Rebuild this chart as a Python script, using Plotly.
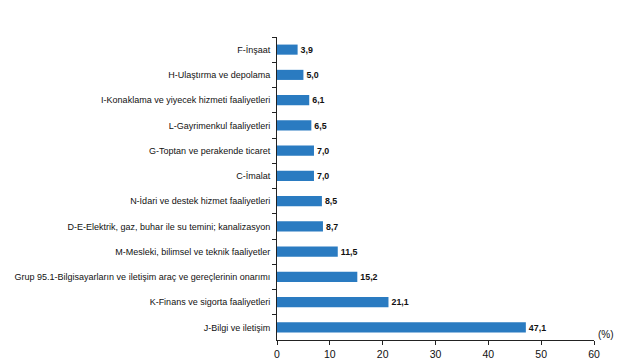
import plotly.graph_objects as go

categories = [
    "F-İnşaat",
    "H-Ulaştırma ve depolama",
    "I-Konaklama ve yiyecek hizmeti faaliyetleri",
    "L-Gayrimenkul faaliyetleri",
    "G-Toptan ve perakende ticaret",
    "C-İmalat",
    "N-İdari ve destek hizmet faaliyetleri",
    "D-E-Elektrik, gaz, buhar ile su temini; kanalizasyon",
    "M-Mesleki, bilimsel ve teknik faaliyetler",
    "Grup 95.1-Bilgisayarların ve iletişim araç ve gereçlerinin onarımı",
    "K-Finans ve sigorta faaliyetleri",
    "J-Bilgi ve iletişim",
]
values = [3.9, 5.0, 6.1, 6.5, 7.0, 7.0, 8.5, 8.7, 11.5, 15.2, 21.1, 47.1]
x_ticks = [0, 10, 20, 30, 40, 50, 60]
labels = [f"{v:.1f}".replace(".", ",") for v in values]

fig = go.Figure(go.Bar(
    x=values, y=categories, orientation="h",
    marker=dict(color="#2a7bc1", line=dict(width=0)),
    width=0.4,
    text=["<b>" + t + "</b>" for t in labels],
    textposition="outside",
    textfont=dict(family="Liberation Sans, Arial", size=10.5, color="#111"),
    cliponaxis=False,
))

# page body has an 8px margin, so the figure is sized to fit the 633x362 window
fig.update_layout(
    width=625, height=354,
    margin=dict(l=269, r=39, t=29, b=22, autoexpand=False),
    paper_bgcolor="white", plot_bgcolor="white",
    showlegend=False,
    font=dict(family="Liberation Sans, Arial", color="#111"),
    xaxis=dict(
        range=[0, 60], tickvals=x_ticks, ticktext=[str(t) for t in x_ticks],
        showgrid=False, zeroline=False, automargin=False,
        showline=True, linecolor="#222", linewidth=1,
        ticks="outside", ticklen=4, tickcolor="#222",
        tickfont=dict(size=10.5, color="#111"),
    ),
    yaxis=dict(
        autorange="reversed", automargin=False,
        showgrid=False, zeroline=False,
        showline=True, linecolor="#222", linewidth=1,
        ticks="outside", ticklen=4, tickcolor="#222",
        tickson="boundaries",
        tickfont=dict(size=9, color="#111"),
        ticklabelstandoff=4,
    ),
    annotations=[dict(
        text="(%)", x=1.0, y=0, xref="paper", yref="paper",
        xanchor="left", yanchor="bottom", xshift=2, yshift=-2,
        showarrow=False, font=dict(size=10, color="#111"),
    )],
)

fig.write_html("out.html")
